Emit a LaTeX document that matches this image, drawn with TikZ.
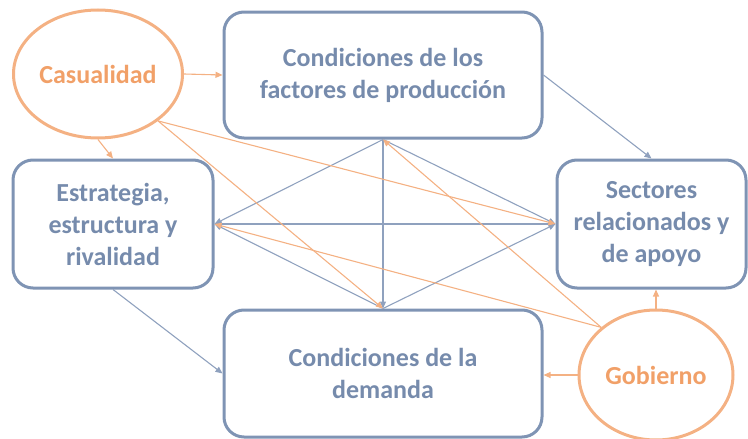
\documentclass[tikz,border=0pt]{standalone}
\usepackage{fontspec}
\setmainfont{Carlito}
\usetikzlibrary{shapes.geometric,arrows.meta}
\definecolor{porterblue}{HTML}{7F94B4}
\definecolor{portertext}{HTML}{768BAC}
\definecolor{porterline}{HTML}{8FA1BE}
\definecolor{porterorange}{HTML}{F4B183}
\definecolor{orangetext}{HTML}{F1A068}

\begin{document}
\begin{tikzpicture}[x=1pt,y=-1pt,
        caja/.style={draw=porterblue,line width=3pt,rounded corners=20pt,align=center,
            text=portertext,font=\fontsize{26}{32}\selectfont\bfseries,inner sep=0pt},
        azar/.style={draw=porterorange,line width=3pt,ellipse,inner sep=0pt,
            text=orangetext,font=\fontsize{26}{32}\selectfont\bfseries},
        punta/.style={-{Triangle[length=7pt,width=6pt]}},
        flecha/.style={draw=porterline,line width=1.1pt,punta},
        naranja/.style={draw=porterorange,line width=1.1pt,punta}]
                \useasboundingbox (0,0) rectangle (748,439);

                \node[caja,minimum width=318,minimum height=126] (fact) at (383,75) {Condiciones de los\\factores de producción};
                \node[caja,minimum width=200,minimum height=128] (est) at (113,224) {Estrategia,\\estructura y\\rivalidad};
                \node[caja,minimum width=189,minimum height=128] (sec) at (651.5,224) {Sectores\\relacionados y\\de apoyo};
                \node[caja,minimum width=318,minimum height=127] (dem) at (383,373.5) {Condiciones de la\\demanda};

                \node[azar,minimum width=169,minimum height=128] (cas) at (98,74) {Casualidad};
                \node[azar,minimum width=154,minimum height=130] (gob) at (656,375) {Gobierno};

                \path[flecha] (fact.south) -- (est.east);
                \path[flecha] (fact.south) -- (dem.north);
                \path[flecha] (fact.south) -- (sec.west);
                \path[flecha,{Triangle[length=7pt,width=6pt]}-{Triangle[length=7pt,width=6pt]}] (est.east) -- (sec.west);
                \path[flecha] (dem.north) -- (est.east);
                \path[flecha] (dem.north) -- (sec.west);
                \path[flecha] (fact.east) -- (sec.north);
                \path[flecha] (est.south) -- (dem.west);

                \path[naranja] (cas.east) -- (fact.west);
                \path[naranja] (cas.south) -- (est.north);
                \path[naranja] (cas.-38) -- (sec.west);
                \path[naranja] (cas.-38) -- (dem.north);
                \path[naranja] (gob.139) -- (fact.south);
                \path[naranja] (gob.139) -- (est.east);
                \path[naranja] (gob.west) -- (gob.west -| dem.east);
                \path[naranja] (gob.north) -- (gob.north |- sec.south);

            \end{tikzpicture}
\end{document}
